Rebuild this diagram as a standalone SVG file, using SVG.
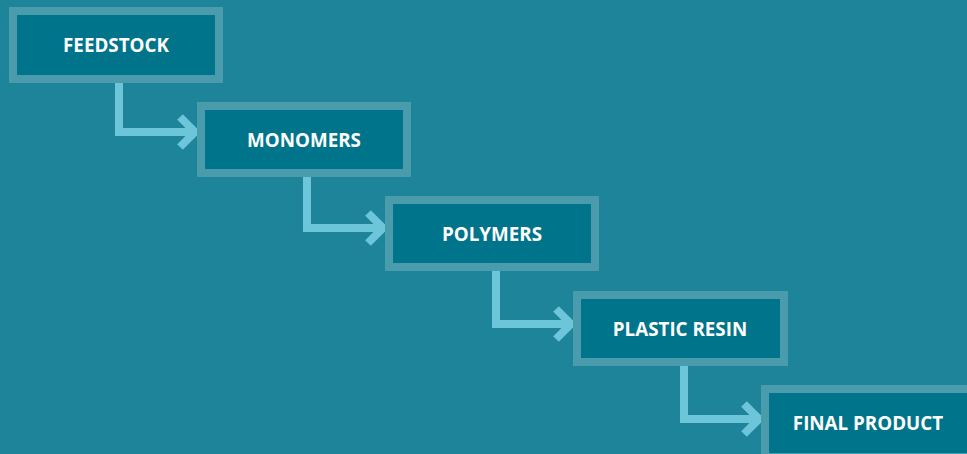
<svg xmlns="http://www.w3.org/2000/svg" width="967" height="454" viewBox="0 0 967 454">
  <style>
    .box { fill: #00748a; stroke: #4a9bab; stroke-width: 8; }
    .label { fill: #ffffff; font-family: "Open Sans", "Liberation Sans", sans-serif; font-weight: 700; font-size: 18.8px; text-anchor: middle; }
    .link { fill: none; stroke: #6cc5d8; stroke-width: 8; stroke-linejoin: miter; stroke-linecap: butt; }
  </style>
  <rect x="0" y="0" width="967" height="454" fill="#1d8499"/>

  <g id="connectors">
    <polyline class="link" points="119,83 119,132 195,132"/>
    <polyline class="link" points="180,117 195,132 180,147"/>
    <polyline class="link" points="307,177 307,228 383,228"/>
    <polyline class="link" points="368,213 383,228 368,243"/>
    <polyline class="link" points="496,271 496,324 571,324"/>
    <polyline class="link" points="556,309 571,324 556,339"/>
    <polyline class="link" points="684,366 684,419 759,419"/>
    <polyline class="link" points="744,404 759,419 744,434"/>
  </g>

  <g id="feedstock">
    <rect class="box" x="13" y="11" width="206" height="68"/>
    <text class="label" x="116" y="52">FEEDSTOCK</text>
  </g>
  <g id="monomers">
    <rect class="box" x="201" y="106" width="206" height="67"/>
    <text class="label" x="304" y="147">MONOMERS</text>
  </g>
  <g id="polymers">
    <rect class="box" x="389" y="200" width="206" height="67"/>
    <text class="label" x="492" y="241">POLYMERS</text>
  </g>
  <g id="plastic-resin">
    <rect class="box" x="577" y="295" width="207" height="67"/>
    <text class="label" x="680" y="336">PLASTIC RESIN</text>
  </g>
  <g id="final-product">
    <rect class="box" x="765" y="389" width="206" height="68"/>
    <text class="label" x="868" y="430">FINAL PRODUCT</text>
  </g>
</svg>
